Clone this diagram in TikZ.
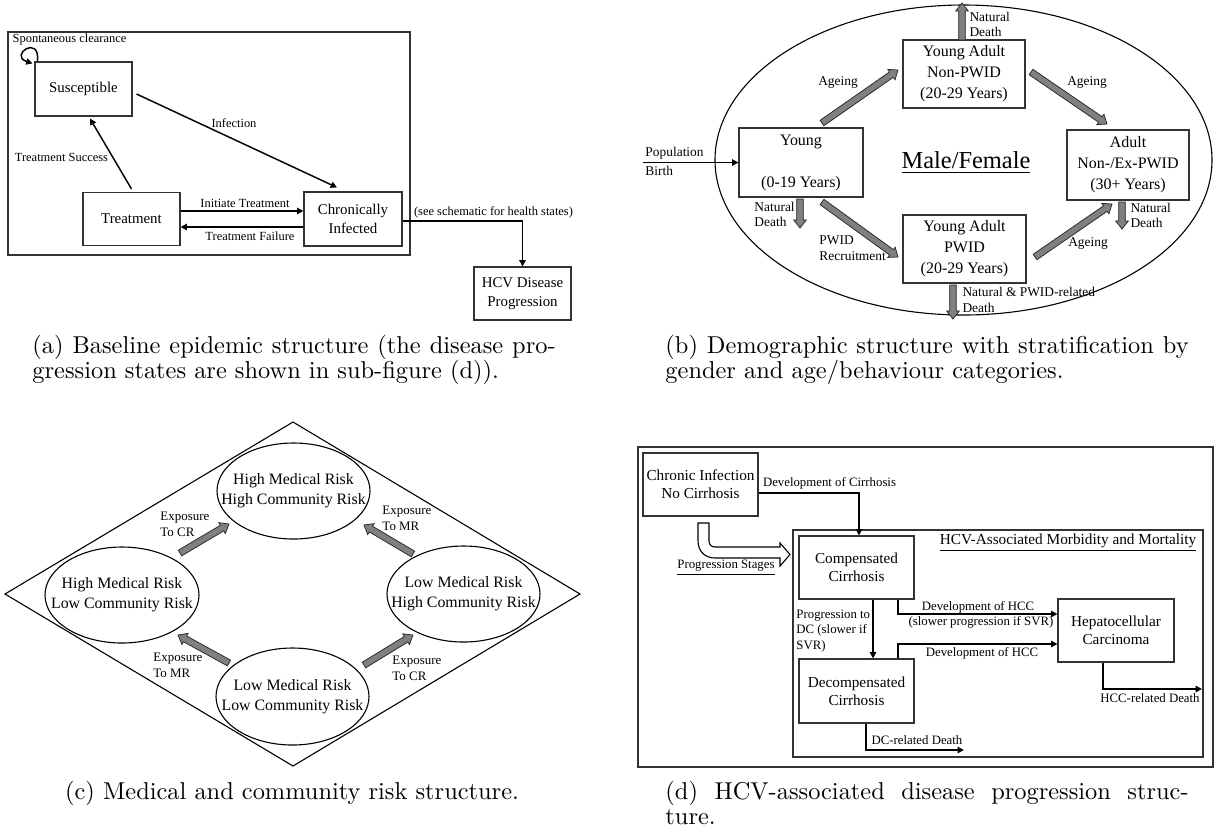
\documentclass[tikz,border=0pt]{standalone}
\usepackage{fontspec}
\newfontfamily\tms{Liberation Serif}
\usetikzlibrary{arrows.meta,calc,shapes.geometric}
\newcommand\fs[2]{\fontsize{#1}{#2}\selectfont}
\def\u{0.41pt}
\newcommand\fatarrow[2]{%
  \coordinate (fahead) at ($(#2)!3.3pt!(#1)$);
  \filldraw[fat] ($(#1)!1.35pt!90:(#2)$) -- ($(fahead)!1.35pt!-90:(#1)$) -- ($(fahead)!2.6pt!-90:(#1)$) -- (#2) -- ($(fahead)!2.6pt!90:(#1)$) -- ($(fahead)!1.35pt!90:(#1)$) -- ($(#1)!1.35pt!-90:(#2)$) -- cycle;}
\begin{document}
\begin{tikzpicture}[x=0.41pt,y=-0.41pt,
  frame/.style={draw=black!80, line width=0.45pt},
  bxa/.style={draw=black!80, line width=0.45pt, inner sep=0pt, align=center, font=\tms\fs{6.1}{7.7}},
  bxb/.style={draw=black!80, line width=0.45pt, inner sep=0pt, align=center, font=\tms\fs{6.55}{8.6}},
  bxd/.style={draw=black!80, line width=0.45pt, inner sep=0pt, align=center, font=\tms\fs{6.25}{7.4}},
  elc/.style={draw=black, line width=0.45pt, ellipse, inner sep=0pt},
  txc/.style={inner sep=0pt, align=center, font=\tms\fs{6.5}{8.1}},
  la/.style={inner sep=0pt, font=\tms\fs{5.1}{6.2}},
  lb/.style={inner sep=0pt, align=left, font=\tms\fs{5.5}{6.4}},
  lc/.style={inner sep=0pt, align=left, font=\tms\fs{5.3}{6.5}},
  ld/.style={inner sep=0pt, align=left, font=\tms\fs{5.25}{6.35}},
  arr/.style={-{Triangle[length=2.6pt,width=2.6pt]}, line width=0.6pt},
  fat/.style={fill=black!50, draw=black!85, line width=0.3pt},
  capt/.style={inner sep=0pt, font=\fs{10}{10.25}, text width=214.5pt, align=justify, anchor=north west}]
\useasboundingbox (0,0) rectangle (1217,834);

% ---------------- (a) ----------------
\draw[frame] (8,32) rectangle (410,255);
\node[bxa, minimum width=97*\u, minimum height=54*\u] (sus) at (83.5,89) {Susceptible};
\node[bxa, minimum width=97*\u, minimum height=53*\u] (trt) at (131.5,219) {Treatment};
\node[bxa, minimum width=98*\u, minimum height=54*\u] (chr) at (353,219) {Chronically\\Infected};
\node[bxa, minimum width=97*\u, minimum height=53*\u] (hcv) at (522.5,293.5) {HCV Disease\\Progression};
\node[la] (lsc) at (69.5,39) {Spontaneous clearance};
\draw[arr] ($(sus.north west)+(3,0)$) .. controls +(3,-28) and +(-24,-8) .. ($(sus.north west)+(-2,2)$);
\draw[arr] ($(sus.east)+(4,5)$) -- ($(chr.north)+(-16,-4)$);
\node[la] at (234,123) {Infection};
\draw[arr] ($(trt.north)+(0,-3)$) -- ($(sus.south)+(6.5,2)$);
\node[la] at (61.5,157) {Treatment Success};
\draw[arr] ($(trt.east)+(0,-8)$) -- ($(chr.west)+(0,-8)$);
\node[la] at (245,203) {Initiate Treatment};
\draw[arr] ($(chr.west)+(0,8)$) -- ($(trt.east)+(0,8)$);
\node[la] at (250,236) {Treatment Failure};
\draw[arr] ($(chr.east)+(0,2)$) -| (hcv.north);
\node[la] at (493.5,212) {(see schematic for health states)};

% ---------------- (b) ----------------
\node[elc, minimum width=497*\u, minimum height=310*\u] (ell) at (963.5,160) {};
\node[bxb, minimum width=124*\u, minimum height=69*\u] (yng) at (801,162.5) {Young\\\mbox{}\\(0-19 Years)};
\node[bxb, minimum width=122*\u, minimum height=68*\u] (ynp) at (964,74) {Young Adult\\Non-PWID\\(20-29 Years)};
\node[bxb, minimum width=123*\u, minimum height=68*\u] (yp) at (964.5,249) {Young Adult\\PWID\\(20-29 Years)};
\node[bxb, minimum width=122*\u, minimum height=70*\u] (adl) at (1128,165) {Adult\\Non-/Ex-PWID\\(30+ Years)};
\node[inner sep=0pt, font=\tms\fs{10}{12}] (mf) at (966,163) {\underline{Male/Female}};
\coordinate (pbs) at (643,162.5);
\draw[arr] (pbs) -- (yng.west);
\node[lb, anchor=west] at (645,153) {Population};
\node[lb, anchor=west] at (645,171) {Birth};
\coordinate (ag1a) at (822,123); \coordinate (ag1b) at (898,70);
\fatarrow{ag1a}{ag1b}
\coordinate (nd1a) at (800,199); \coordinate (nd1b) at (800,228);
\fatarrow{nd1a}{nd1b}
\coordinate (pra) at (822,202); \coordinate (prb) at (898,257);
\fatarrow{pra}{prb}
\coordinate (nd2a) at (962,40); \coordinate (nd2b) at (962,3);
\fatarrow{nd2a}{nd2b}
\coordinate (ag2a) at (1031,72); \coordinate (ag2b) at (1107,124);
\fatarrow{ag2a}{ag2b}
\coordinate (ag3a) at (1035,257); \coordinate (ag3b) at (1112,204);
\fatarrow{ag3a}{ag3b}
\coordinate (nd3a) at (1122,202); \coordinate (nd3b) at (1122,229);
\fatarrow{nd3a}{nd3b}
\coordinate (nd4a) at (953,285); \coordinate (nd4b) at (953,319);
\fatarrow{nd4a}{nd4b}
\node[lb] at (838,82) {Ageing};
\node[lb] at (1087,82) {Ageing};
\node[lb] at (1088,243) {Ageing};
\node[lb, anchor=west] at (754,214.5) {Natural\\Death};
\node[lb, anchor=west] at (969,24.5) {Natural\\Death};
\node[lb, anchor=west] at (819,248) {PWID\\Recruitment};
\node[lb, anchor=west] at (1130,215.5) {Natural\\Death};
\node[lb, anchor=west] at (962,300) {Natural \& PWID-related\\Death};

% ---------------- (c) ----------------
\draw[line width=0.45pt] (293,422) -- (580,594) -- (293,766) -- (5,594) -- cycle;
\node[elc, minimum width=153*\u, minimum height=96*\u] (hh) at (293.5,491) {};
\node[elc, minimum width=154*\u, minimum height=96*\u] (hl) at (122,595) {};
\node[elc, minimum width=153*\u, minimum height=96*\u] (lh) at (463.5,594) {};
\node[elc, minimum width=153*\u, minimum height=97*\u] (ll) at (292.5,696.5) {};
\node[txc] at (hh) {High Medical Risk\\High Community Risk};
\node[txc] at (hl) {High Medical Risk\\Low Community Risk};
\node[txc] at (lh) {Low Medical Risk\\High Community Risk};
\node[txc] at (ll) {Low Medical Risk\\Low Community Risk};
\coordinate (e1a) at (180,553); \coordinate (e1b) at (229,524);
\fatarrow{e1a}{e1b}
\coordinate (e2a) at (413,554); \coordinate (e2b) at (364,525);
\fatarrow{e2a}{e2b}
\coordinate (e3a) at (229,663); \coordinate (e3b) at (178,635);
\fatarrow{e3a}{e3b}
\coordinate (e4a) at (364,665); \coordinate (e4b) at (413,635);
\fatarrow{e4a}{e4b}
\node[lc, anchor=west] at (160,524) {Exposure\\To CR};
\node[lc, anchor=west] at (382,518.5) {Exposure\\To MR};
\node[lc, anchor=west] at (153,665.5) {Exposure\\To MR};
\node[lc, anchor=west] at (392,668) {Exposure\\To CR};

% ---------------- (d) ----------------
\draw[frame] (638,447) rectangle (1213,767);
\draw[frame] (793,530) rectangle (1203,757);
\node[bxd, minimum width=115*\u, minimum height=63*\u] (cinf) at (700.5,484.5) {Chronic Infection\\No Cirrhosis};
\node[bxd, minimum width=115*\u, minimum height=63*\u] (comp) at (856.5,567.5) {Compensated\\Cirrhosis};
\node[bxd, minimum width=115*\u, minimum height=64*\u] (dcmp) at (856.5,691) {Decompensated\\Cirrhosis};
\node[bxd, minimum width=116*\u, minimum height=63*\u] (hcc) at (1116,630.5) {Hepatocellular\\Carcinoma};
\node[inner sep=0pt, font=\tms\fs{6.27}{7.4}] (head) at (1068,543) {\underline{HCV-Associated Morbidity and Mortality}};
\draw[arr] ($(cinf.east)+(0,8.5)$) -| ($(comp.north)+(2.5,0)$);
\node[ld] at (829.5,483) {Development of Cirrhosis};
\draw[line width=0.45pt, fill=white] (698,523) -- (709,523) -- (709,541) .. controls (709,544.5) and (711.5,547) .. (715,547) -- (780,547) -- (780,543) -- (790,554.5) -- (780,566) -- (780,558) -- (715,558) .. controls (705,558) and (698,551) .. (698,541) -- cycle;
\node[ld] at (726,568) {\underline{Progression Stages}};
\draw[arr] ($(comp.south)+(16.5,0)$) -- ($(dcmp.north)+(16.5,0)$);
\node[ld, anchor=west] at (796,631) {Progression to\\DC (slower if\\SVR)};
\draw[arr] ($(comp.south)+(41.5,0)$) |- ($(hcc.west)+(0,-16.5)$);
\node[ld] at (978,607) {Development of HCC};
\node[ld] at (981,622) {(slower progression if SVR)};
\draw[arr] ($(dcmp.north)+(41.5,0)$) |- ($(hcc.west)+(0,13.5)$);
\node[ld] at (982,653) {Development of HCC};
\coordinate (hccd) at (1202,689);
\draw[arr] ($(hcc.south)+(-13,0)$) |- (hccd);
\node[ld] at (1150,698) {HCC-related Death};
\coordinate (dcd) at (964,750);
\draw[arr] ($(dcmp.south)+(9.5,0)$) |- (dcd);
\node[ld] at (917,740) {DC-related Death};

% ---------------- captions ----------------
\node[capt] (capa) at (32,335) {\hangindent=16pt\hangafter=1 (a) Baseline epidemic structure (the disease pro-\linebreak gression states are shown in sub-figure (d)).};
\node[capt] (capb) at (665,335) {\hangindent=16pt\hangafter=1 (b) Demographic structure with stratification by\linebreak gender and age/behaviour categories.};
\node[inner sep=0pt, font=\fs{10}{10.25}, anchor=north] (capc) at (292,781) {(c) Medical and community risk structure.};
\node[capt] (capd) at (665,781) {\hangindent=16pt\hangafter=1 (d) HCV-associated disease progression struc-\linebreak ture.};
\end{tikzpicture}
\end{document}
